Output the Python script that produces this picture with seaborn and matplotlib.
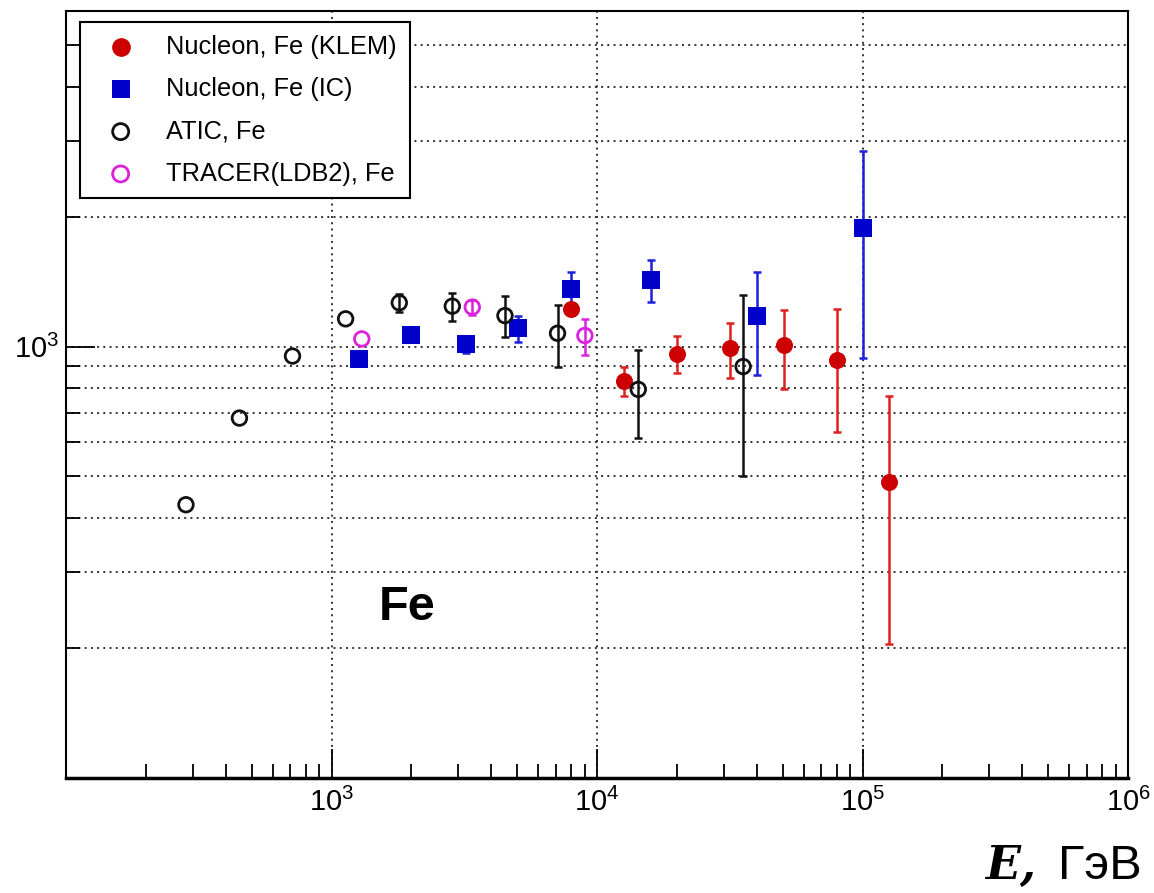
"""
Fe flux vs energy: NUCLEON (KLEM, IC) compared with ATIC and TRACER.
"""

import numpy as np
import matplotlib
matplotlib.use("Agg")
import matplotlib.pyplot as plt
import matplotlib.ticker as mticker
import seaborn as sns

# === Data ===
klem_E = [8000, 12600, 20000, 31800, 50500, 80000, 126000]
klem_F = [1220, 833, 963, 991, 1007, 933, 486]
klem_lo = [1220, 770, 867, 846, 798, 634, 205]
klem_hi = [1220, 898, 1061, 1133, 1217, 1224, 768]

ic_E = [1270, 2000, 3200, 5050, 8000, 16000, 40000, 100000]
ic_F = [936, 1062, 1014, 1105, 1362, 1426, 1180, 1888]
ic_lo = [936, 1062, 968, 1027, 1241, 1272, 861, 939]
ic_hi = [936, 1062, 1057, 1176, 1486, 1585, 1492, 2838]

atic_E = [283, 450, 713, 1130, 1800, 2850, 4500, 7100, 14300, 35500]
atic_F = [430, 683, 951, 1160, 1264, 1241, 1180, 1074, 796, 899]
atic_lo = [430, 683, 951, 1160, 1202, 1149, 1053, 897, 613, 500]
atic_hi = [430, 683, 951, 1160, 1326, 1328, 1307, 1250, 980, 1314]

tracer_E = [1300, 3390, 9000]
tracer_F = [1042, 1235, 1061]
tracer_lo = [1042, 1187, 958]
tracer_hi = [1042, 1286, 1160]

labels = ["Nucleon, Fe (KLEM)", "Nucleon, Fe (IC)", "ATIC, Fe", "TRACER(LDB2), Fe"]


def draw_errors(ax, e, f, lo, hi, color):
    # skip points whose error is hidden under the marker
    e, f, lo, hi = (np.array(v, float) for v in (e, f, lo, hi))
    keep = (hi - lo) > 0
    ax.errorbar(e[keep], f[keep], yerr=[f[keep] - lo[keep], hi[keep] - f[keep]],
                fmt="none", ecolor=color, elinewidth=1.8, capsize=3, capthick=1.8,
                zorder=2)


sns.set_style("ticks")
plt.rcParams["font.family"] = ["Liberation Sans", "DejaVu Sans"]
plt.rcParams["mathtext.default"] = "regular"
plt.rcParams["text.color"] = "black"
plt.rcParams["xtick.color"] = "black"
plt.rcParams["ytick.color"] = "black"

fig = plt.figure(figsize=(11.54, 8.93), dpi=100)
ax = fig.add_axes([0.0572, 0.1288, 0.9203, 0.8589])
ax.set_xscale("log")
ax.set_yscale("log")

draw_errors(ax, klem_E, klem_F, klem_lo, klem_hi, "#dd2020")
draw_errors(ax, ic_E, ic_F, ic_lo, ic_hi, "#1f1fdd")
draw_errors(ax, atic_E, atic_F, atic_lo, atic_hi, "#111111")
draw_errors(ax, tracer_E, tracer_F, tracer_lo, tracer_hi, "#dd22dd")

sns.scatterplot(x=klem_E, y=klem_F, ax=ax, marker="o", s=150, color="#cc0000",
                edgecolor="#cc0000", linewidth=0, label=labels[0], zorder=4)
sns.scatterplot(x=ic_E, y=ic_F, ax=ax, marker="s", s=150, color="#0000cc",
                edgecolor="#0000cc", linewidth=0, label=labels[1], zorder=4)
sns.scatterplot(x=atic_E, y=atic_F, ax=ax, marker="o", s=110, facecolors="none",
                edgecolor="#111111", linewidth=2, label=labels[2], zorder=4)
sns.scatterplot(x=tracer_E, y=tracer_F, ax=ax, marker="o", s=110, facecolors="none",
                edgecolor="#dd22dd", linewidth=2, label=labels[3], zorder=4)

ax.set_xlim(100, 1e6)
ax.set_ylim(100, 6000)

# ticks: ROOT style, inward, labels only on decades inside the frame
ax.xaxis.set_major_locator(mticker.FixedLocator([1e3, 1e4, 1e5, 1e6]))
ax.xaxis.set_minor_locator(mticker.LogLocator(base=10, subs=np.arange(2, 10)))
ax.xaxis.set_major_formatter(mticker.LogFormatterMathtext())
ax.xaxis.set_minor_formatter(mticker.NullFormatter())
ax.yaxis.set_major_locator(mticker.FixedLocator([1e3]))
ax.yaxis.set_minor_locator(mticker.LogLocator(base=10, subs=np.arange(2, 10)))
ax.yaxis.set_major_formatter(mticker.LogFormatterMathtext())
ax.yaxis.set_minor_formatter(mticker.NullFormatter())
ax.tick_params(which="major", direction="in", length=21, width=1.3, labelsize=21,
               colors="black", top=False, right=False)
ax.tick_params(which="minor", direction="in", length=10, width=1.3, top=False, right=False)
ax.tick_params(axis="x", which="major", pad=7)
ax.tick_params(axis="y", which="major", pad=5)

grid_kw = dict(color="#333333", linestyle=(0, (1, 2.2)), linewidth=1.4)
ax.grid(True, which="major", axis="x", **grid_kw)
ax.grid(True, which="both", axis="y", **grid_kw)
ax.set_axisbelow(True)

for side in ["left", "top", "right"]:
    ax.spines[side].set_color("black")
    ax.spines[side].set_linewidth(1.5)
ax.spines["bottom"].set_color("black")
ax.spines["bottom"].set_linewidth(2.5)

ax.set_xlabel("")
ax.set_ylabel("")

leg = ax.legend(loc="upper left", bbox_to_anchor=(14 / 1062, 1 - 11 / 767),
                borderaxespad=0, fontsize=18.3, frameon=True, fancybox=False,
                framealpha=1, edgecolor="black", handlelength=2.2, markerscale=1.1,
                handletextpad=0.7, borderpad=0.5, labelspacing=0.72)
leg.get_frame().set_linewidth(1.5)
for t in leg.get_texts():
    t.set_color("black")

ax.text(0.321, 0.206, "Fe", transform=ax.transAxes, fontsize=35,
        fontweight="heavy", color="black", ha="center", va="baseline")

# axis title in the bottom-right corner
fig.text(1142 / 1154, 1 - 879 / 893, "ГэВ", fontsize=35, ha="right", va="baseline")
fig.text(1036 / 1154, 1 - 879 / 893, "E,", fontsize=33, ha="right", va="baseline",
         family="DejaVu Serif", style="italic", fontweight="bold")

fig.savefig("out.png", dpi=100)
